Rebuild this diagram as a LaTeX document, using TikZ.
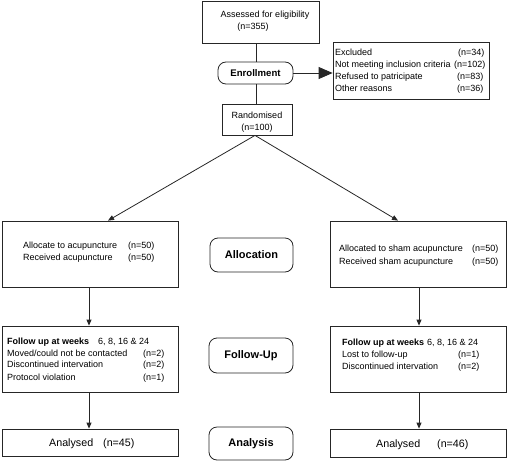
\documentclass[tikz,border=0pt]{standalone}
\usepackage{fontspec}
\setmainfont{Liberation Sans}
\usetikzlibrary{arrows.meta}
\begin{document}
\begin{tikzpicture}[x=1pt,y=-1pt,
  box/.style={draw=black!85, line width=0.8pt, inner sep=0pt, rectangle},
  lab/.style={draw=black!85, line width=0.8pt, inner sep=0pt, rounded corners=8pt, font=\fontsize{11}{12}\selectfont\bfseries},
  txt/.style={anchor=base west, inner sep=0pt, font=\fontsize{9}{11}\selectfont},
  ctxt/.style={anchor=base, inner sep=0pt, font=\fontsize{9}{11}\selectfont},
  btxt/.style={anchor=base west, inner sep=0pt, font=\fontsize{9}{11}\selectfont\bfseries},
  big/.style={anchor=base west, inner sep=0pt, font=\fontsize{10.7}{12}\selectfont},
  conn/.style={draw=black!85, line width=0.8pt},
  arr/.style={conn, -{Triangle[length=6pt,width=5pt]}}
]
\useasboundingbox (0,0) rectangle (508,463);
% boxes
\node[box, minimum width=117pt, minimum height=42pt] (assess) at (260.5,22) {};
\node[lab, minimum width=75pt, minimum height=22pt, font=\fontsize{9.6}{11}\selectfont\bfseries] (enroll) at (255.5,73) {Enrollment};
\node[box, minimum width=156pt, minimum height=57pt] (excl) at (411,70.5) {};
\node[box, minimum width=70pt, minimum height=31pt] (rand) at (257,119.5) {};
\node[box, minimum width=176pt, minimum height=66pt] (allocL) at (90,254) {};
\node[box, minimum width=176pt, minimum height=66pt] (allocR) at (418,254) {};
\node[box, minimum width=176pt, minimum height=66pt] (fuL) at (90,359) {};
\node[box, minimum width=176pt, minimum height=66pt] (fuR) at (418,359) {};
\node[box, minimum width=176pt, minimum height=27pt] (anL) at (90,442.5) {};
\node[box, minimum width=176pt, minimum height=28pt] (anR) at (418,443) {};
\node[lab, minimum width=83pt, minimum height=34pt] (lAlloc) at (251.5,255) {Allocation};
\node[lab, minimum width=84pt, minimum height=35pt] (lFU) at (251,355.5) {Follow-Up};
\node[lab, minimum width=84pt, minimum height=33pt] (lAn) at (251,443.5) {Analysis};
% texts
\node[ctxt] (t1) at (265,17) {Assessed for eligibility};
\node[ctxt] (t2) at (253,29) {(n=355)};
\node[txt] (e1) at (335,55) {Excluded};
\node[txt] (e1n) at (458,55) {(n=34)};
\node[txt] (e2) at (335,67) {Not meeting inclusion criteria};
\node[txt] (e2n) at (454,67) {(n=102)};
\node[txt] (e3) at (335,79) {Refused to patricipate};
\node[txt] (e3n) at (457,79) {(n=83)};
\node[txt] (e4) at (335,91) {Other reasons};
\node[txt] (e4n) at (457,91) {(n=36)};
\node[ctxt] (r1) at (257,118) {Randomised};
\node[ctxt] (r2) at (257,130) {(n=100)};
\node[txt] (a1) at (23,248) {Allocate to acupuncture};
\node[txt] (a1n) at (128,248) {(n=50)};
\node[txt] (a2) at (23,260) {Received acupuncture};
\node[txt] (a2n) at (128,260) {(n=50)};
\node[txt] (b1) at (339,251) {Allocated to sham acupuncture};
\node[txt] (b1n) at (472,251) {(n=50)};
\node[txt] (b2) at (339,264) {Received sham acupuncture};
\node[txt] (b2n) at (472,264) {(n=50)};
\node[btxt] (f1) at (7,344) {Follow up at weeks};
\node[txt] (f1w) at (98,344) {6, 8, 16 \& 24};
\node[txt] (f2) at (7,356) {Moved/could not be contacted};
\node[txt] (f2n) at (143,356) {(n=2)};
\node[txt] (f3) at (7,367) {Discontinued intervation};
\node[txt] (f3n) at (143,367) {(n=2)};
\node[txt] (f4) at (7,380) {Protocol violation};
\node[txt] (f4n) at (143,380) {(n=1)};
\node[btxt] (g1) at (342,345) {Follow up at weeks};
\node[txt] (g1w) at (427,345) {6, 8, 16 \& 24};
\node[txt] (g2) at (342,357) {Lost to follow-up};
\node[txt] (g2n) at (458,357) {(n=1)};
\node[txt] (g3) at (342,369) {Discontinued intervation};
\node[txt] (g3n) at (458,369) {(n=2)};
\node[big] (n1) at (49,446) {Analysed};
\node[big] (n1n) at (103,446) {(n=45)};
\node[big] (n2) at (376,447) {Analysed};
\node[big] (n2n) at (437,447) {(n=46)};
% connectors
\draw[conn] (enroll.north -| 256,0) -- (assess.south -| 256,0);
\draw[conn] (enroll.south -| 256,0) -- (rand.north -| 256,0);
\draw[conn, -{Triangle[length=14pt,width=12pt]}] (enroll.east) -- (excl.west |- enroll.east);
\draw[arr] (rand.south -| 255,0) -- ([xshift=18pt]allocL.north);
\draw[arr] (rand.south -| 255,0) -- ([xshift=-20pt]allocR.north);
\draw[arr] (allocL.south -| 89,0) -- (fuL.north -| 89,0);
\draw[arr] (allocR.south -| 419,0) -- (fuR.north -| 419,0);
\draw[arr] (fuL.south -| 89,0) -- (anL.north -| 89,0);
\draw[arr] (fuR.south -| 419,0) -- (anR.north -| 419,0);
\end{tikzpicture}
\end{document}
